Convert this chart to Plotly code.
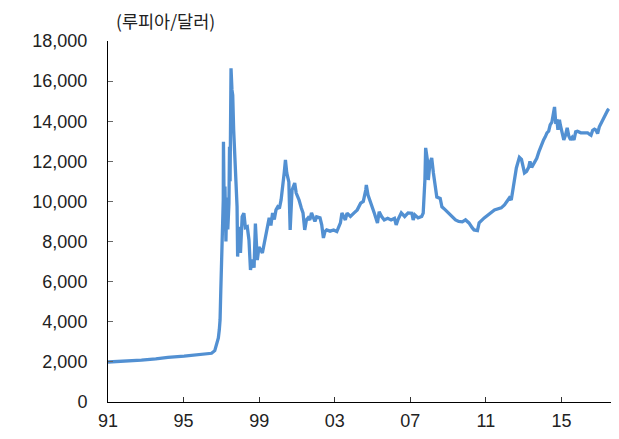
import plotly.graph_objects as go

# Chart-axis year (as labelled on the x axis) and rupiah per dollar
years = [
    1991.00, 1991.91, 1992.77, 1993.53, 1994.17, 1995.03, 1995.95, 1996.48, 1996.65, 1996.75,
    1996.84, 1996.89, 1996.93, 1996.97, 1997.02, 1997.08, 1997.10, 1997.11, 1997.13, 1997.16,
    1997.19, 1997.24, 1997.29, 1997.34, 1997.40, 1997.43, 1997.46, 1997.51, 1997.56, 1997.60,
    1997.65, 1997.69, 1997.74, 1997.79, 1997.83, 1997.86, 1997.92, 1998.01, 1998.10, 1998.19,
    1998.27, 1998.37, 1998.46, 1998.54, 1998.63, 1998.73, 1998.80, 1998.90, 1998.99, 1999.17,
    1999.35, 1999.44, 1999.53, 1999.62, 1999.71, 1999.80, 1999.89, 1999.98, 2000.07, 2000.16,
    2000.25, 2000.33, 2000.39, 2000.46, 2000.57, 2000.64, 2000.74, 2000.88, 2000.96, 2001.11,
    2001.23, 2001.32, 2001.41, 2001.50, 2001.59, 2001.68, 2001.77, 2001.86, 2001.95, 2002.04,
    2002.22, 2002.31, 2002.40, 2002.48, 2002.57, 2002.75, 2002.94, 2003.11, 2003.30, 2003.38,
    2003.47, 2003.56, 2003.65, 2003.83, 2004.01, 2004.19, 2004.37, 2004.51, 2004.64, 2004.67,
    2004.76, 2004.87, 2004.99, 2005.09, 2005.26, 2005.35, 2005.48, 2005.62, 2005.80, 2005.98,
    2006.16, 2006.25, 2006.34, 2006.52, 2006.70, 2006.88, 2007.08, 2007.15, 2007.24, 2007.41,
    2007.60, 2007.68, 2007.77, 2007.81, 2007.90, 2007.95, 2008.04, 2008.13, 2008.22, 2008.31,
    2008.40, 2008.58, 2008.67, 2008.85, 2009.03, 2009.21, 2009.39, 2009.56, 2009.75, 2009.92,
    2010.10, 2010.28, 2010.37, 2010.55, 2010.64, 2010.91, 2011.09, 2011.27, 2011.45, 2011.81,
    2011.98, 2012.24, 2012.34, 2012.45, 2012.51, 2012.61, 2012.77, 2012.88, 2013.04, 2013.15,
    2013.26, 2013.33, 2013.42, 2013.58, 2013.69, 2013.80, 2013.87, 2013.96, 2014.05, 2014.14,
    2014.23, 2014.32, 2014.40, 2014.49, 2014.58, 2014.63, 2014.69, 2014.76, 2014.81, 2014.89,
    2014.94, 2015.03, 2015.12, 2015.21, 2015.30, 2015.39, 2015.48, 2015.57, 2015.66, 2015.75,
    2015.84, 2016.02, 2016.20, 2016.38, 2016.47, 2016.56, 2016.65, 2016.74, 2016.83, 2016.91,
    2017.00, 2017.09, 2017.18, 2017.27, 2017.36, 2017.45, 2017.51,
]
rupiah = [
    1995, 2030, 2090, 2150, 2230, 2290, 2390, 2430, 2560, 2940,
    3190, 3600, 4090, 5590, 7250, 8930, 10075, 12980, 9740, 8580,
    10740, 8000, 10200, 8600, 9900, 12730, 11000, 16640, 15560, 15300,
    13570, 12570, 12070, 10920, 9740, 7250, 8740, 7430, 9240, 9420,
    8700, 8740, 8080, 6580, 7100, 6700, 8900, 7080, 7730, 7430,
    8230, 8730, 9180, 8800, 9430, 9100, 9580, 9730, 9650, 10075,
    10720, 11470, 12070, 11420, 10970, 8580, 10570, 10920, 10420, 10075,
    9675, 9430, 8580, 9080, 9180, 9080, 9430, 9180, 9000, 9230,
    9180, 8830, 8180, 8500, 8580, 8520, 8580, 8500, 8930, 9420,
    9250, 9080, 9420, 9250, 9420, 9580, 9910, 10000, 10570, 10820,
    10320, 9975, 9730, 9420, 8930, 9480, 9250, 9080, 9160, 9080,
    9160, 8830, 9080, 9430, 9250, 9430, 9410, 9080, 9330, 9180,
    9250, 9420, 11070, 12670, 12070, 11070, 11920, 12170, 11420, 10720,
    10220, 10150, 9730, 9580, 9420, 9230, 9080, 9000, 8980, 9080,
    8930, 8680, 8580, 8550, 8930, 9180, 9330, 9430, 9580, 9680,
    9830, 10175, 10075, 10720, 11070, 11670, 12200, 12100, 11420, 11500,
    11700, 12000, 11700, 12000, 12150, 12470, 12670, 12920, 13070, 13220,
    13420, 13500, 13820, 13950, 14560, 14710, 13970, 14000, 13570, 14070,
    13800, 13420, 13070, 13300, 13670, 13250, 13070, 13200, 13070, 13470,
    13500, 13420, 13420, 13420, 13350, 13300, 13550, 13600, 13550, 13380,
    13720, 13900, 14070, 14200, 14410, 14560, 14620,
]

x_tick_vals = [1991, 1995, 1999, 2003, 2007, 2011, 2015]
x_tick_text = ["91", "95", "99", "03", "07", "11", "15"]
y_tick_vals = [0, 2000, 4000, 6000, 8000, 10000, 12000, 14000, 16000, 18000]
y_tick_text = ["0", "2,000", "4,000", "6,000", "8,000", "10,000", "12,000", "14,000", "16,000", "18,000"]
unit_label = "(루피아/달러)"

font_family = "Liberation Sans, Arial, Noto Sans CJK KR, sans-serif"

fig = go.Figure()
fig.add_trace(go.Scatter(
    x=years, y=rupiah, mode="lines",
    line=dict(color="#5290D2", width=3.3),
    hoverinfo="skip", showlegend=False,
))

# the page body adds an 8px offset; the figure is sized to compensate
fig.update_layout(
    width=611, height=431,
    margin=dict(l=100, r=4, t=33, b=37),
    paper_bgcolor="white", plot_bgcolor="white",
    font=dict(family=font_family, size=18, color="#222222"),
    xaxis=dict(
        range=[1991, 2017.83], tickmode="array", tickvals=x_tick_vals, ticktext=x_tick_text,
        showline=True, linecolor="#000000", linewidth=1, ticks="inside", ticklen=5,
        tickcolor="#333333", showgrid=False, zeroline=False, ticklabelstandoff=2,
        automargin=False,
    ),
    yaxis=dict(
        range=[0, 18000], tickmode="array", tickvals=y_tick_vals, ticktext=y_tick_text,
        showline=True, linecolor="#000000", linewidth=1, ticks="inside", ticklen=5,
        tickcolor="#666666", showgrid=False, zeroline=False, ticklabelstandoff=16,
        automargin=False,
    ),
    annotations=[dict(
        text=unit_label, xref="paper", yref="paper", x=0.012, y=1.058,
        xanchor="left", yanchor="middle", showarrow=False,
        font=dict(family="Noto Sans CJK KR, sans-serif", size=17.5, color="#222222"),
    )],
)

fig.write_html("out.html")
